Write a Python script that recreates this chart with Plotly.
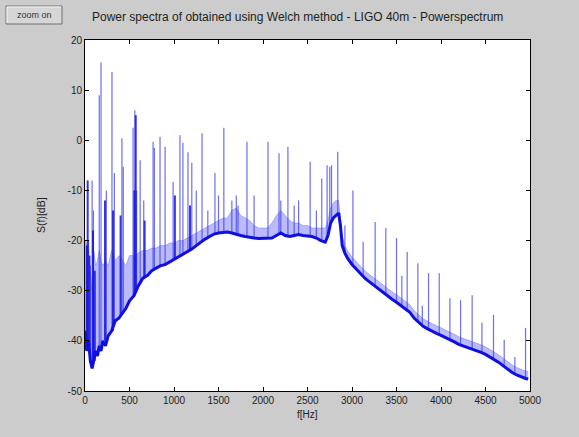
import plotly.graph_objects as go

# ---------------- data ----------------
base_freq = [0, 20, 40, 60, 80, 100, 120, 140, 160, 180, 200, 230, 260, 300, 340, 380, 420, 460, 500,
             550, 600, 650, 700, 750, 800, 850, 900, 950, 1000, 1050, 1100, 1150, 1200, 1250, 1300,
             1350, 1400, 1450, 1500, 1550, 1600, 1650, 1700, 1750, 1800, 1850, 1900, 1950, 2000, 2050,
             2100, 2150, 2200, 2250, 2300, 2350, 2400, 2450, 2500, 2550, 2600, 2650, 2700, 2730, 2760,
             2790, 2820, 2850, 2870, 2890, 2920, 2950, 3000, 3050, 3100, 3150, 3200, 3250, 3300, 3350,
             3400, 3450, 3500, 3550, 3600, 3650, 3700, 3750, 3800, 3850, 3900, 3950, 4000, 4050, 4100,
             4150, 4200, 4250, 4300, 4350, 4400, 4450, 4500, 4550, 4600, 4650, 4700, 4750, 4800, 4850,
             4900, 4950, 4980]

base_db = [-38, -42, -40, -44, -45.5, -44, -42, -43, -41, -42, -40, -41, -39, -38, -36, -35.5, -34.5,
           -33.5, -32, -31, -29, -27.5, -27, -26, -25.5, -25, -24.8, -24.3, -23.8, -23.3, -22.8, -22.2,
           -21.7, -21, -20.3, -19.7, -19.2, -18.7, -18.5, -18.4, -18.3, -18.5, -18.8, -19, -19.2, -19.4,
           -19.5, -19.6, -19.6, -19.6, -19.5, -19, -18.5, -19, -19.2, -19, -18.8, -19, -19.1, -19.2,
           -19.5, -20, -20.3, -19, -16.5, -15.5, -15, -14.5, -17, -21, -22.5, -23.5, -24.8, -25.8,
           -26.8, -27.6, -28.3, -29, -29.7, -30.4, -31, -31.7, -32.3, -33, -33.6, -34.3, -35.5, -36.4,
           -37.1, -37.6, -38.1, -38.5, -38.9, -39.3, -39.7, -40.2, -40.7, -41, -41.4, -41.7, -42,
           -42.3, -42.7, -43.2, -43.7, -44.3, -45, -45.7, -46.3, -46.8, -47.2, -47.5, -47.6]

upper_db = [-20, -21, -22, -26, -30, -22, -25, -24, -22, -24, -25, -24, -25, -22, -24, -23, -24,
            -25, -23, -23, -22.5, -22, -22, -21.5, -21.5, -21, -21, -20.5, -20.5, -20, -20, -19.5,
            -19, -18.5, -18, -17.5, -17, -16.5, -16, -15.5, -15.5, -14, -13.5, -15, -15.5, -16,
            -17, -17.5, -17.5, -17.5, -16.5, -15, -14, -15, -16, -16.5, -16.5, -17, -17, -17.5,
            -17.5, -17.5, -17.5, -16, -13.5, -12.5, -12, -12, -15, -19, -21, -22, -23.3, -24.3,
            -25.3, -26.1, -26.8, -27.5, -28.2, -28.9, -29.5, -30.2, -30.8, -31.5, -32.1, -32.8,
            -34, -34.9, -35.6, -36.1, -36.6, -37, -37.4, -37.8, -38.2, -38.7, -39.2, -39.5, -39.9,
            -40.2, -40.5, -40.8, -41.2, -41.7, -42.2, -42.8, -43.5, -44.2, -44.8, -45.3, -45.7,
            -46, -46.1]

# thin (lighter) spectral lines
spike_freq = [40, 60, 80, 95, 160, 180, 240, 303, 330, 415, 430, 540, 560, 580, 620, 660, 765, 780,
              843, 900, 990, 1067, 1100, 1157, 1200, 1250, 1315, 1380, 1460, 1500, 1560, 1650, 1700,
              1720, 1820, 1900, 2056, 2180, 2200, 2280, 2350, 2400, 2530, 2600, 2660, 2720, 2750,
              2770, 2840, 2920, 3010, 3125, 3260, 3380, 3500, 3560, 3620, 3740, 3790, 3860, 3980,
              4100, 4220, 4350, 4460, 4590, 4710, 4830, 4950]

spike_peak = [-20, -25, -8, -14, 9, 15.5, -10, 13.6, -6.5, 0.4, -5.3, 2.5, 6, -10, -4, -12, -0.3,
              -1.5, 0.7, -1.3, -8.3, 1, -0.5, -2.4, -4.5, -10, 1.4, -14, -6.5, -11, 2.5, -12, -11,
              -13, -0.3, -11, -0.3, -2.6, -12, -1.3, -13, -12, -4.3, -14, -7.6, -5, -5.3, -5, -2.3,
              -17, -10, -20.3, -16.3, -17.5, -19.5, -27, -22.3, -24.5, -33, -26.5, -26.5, -31.5,
              -31.9, -30.9, -36.4, -34.8, -39.8, -43.2, -37.4]

spike_floor = [-40, -44, -45, -44, -41, -42, -40, -38, -37, -34.5, -34, -31, -30.5, -30, -28.5, -27.5,
               -26, -25.8, -25, -24.8, -23.9, -23.2, -22.8, -22.2, -21.7, -21, -20.2, -19.4, -18.7,
               -18.5, -18.4, -18.5, -18.8, -18.9, -19.3, -19.5, -19.6, -18.7, -18.5, -19.1, -19,
               -18.8, -19.2, -19.5, -20, -19.5, -17, -16, -14.6, -22.5, -25, -27.2, -29.1, -30.8,
               -32.3, -33.1, -33.9, -36.2, -37, -37.7, -38.8, -39.7, -40.8, -41.7, -42.4, -43.6,
               -45.1, -46.6, -47.5]

# darker, denser lines at low frequency
dark_freq = [20, 30, 50, 90, 110, 225, 315, 400, 555, 570, 670, 1010, 1180]
dark_peak = [-21, -8, -23, -18, -26, -12, -14, -15, -10, 5, -16, -11, -13]
dark_floor = [-42, -41, -41, -45, -44, -40, -38, -35, -31, -30.5, -27.5, -23.8, -22]

x_ticks = [0, 500, 1000, 1500, 2000, 2500, 3000, 3500, 4000, 4500, 5000]
x_tick_text = ["0", "500", "1000", "1500", "2000", "2500", "3000", "3500", "4000", "4500", "5000"]
y_ticks = [-50, -40, -30, -20, -10, 0, 10, 20]
y_tick_text = ["-50", "-40", "-30", "-20", "-10", "0", "10", "20"]

title_text = "Power spectra of obtained using Welch method - LIGO 40m - Powerspectrum"

# ---------------- build spike segments ----------------
def segments(freqs, peaks, floors):
    xs, ys = [], []
    for f, p, b in zip(freqs, peaks, floors):
        xs += [f, f, None]
        ys += [b, p, None]
    return xs, ys

sx, sy = segments(spike_freq, spike_peak, spike_floor)
dx, dy = segments(dark_freq, dark_peak, dark_floor)

FONT = "Liberation Sans, Arial, sans-serif"
fig = go.Figure()
fig.add_trace(go.Scatter(x=base_freq, y=base_db, mode="lines",
                         line=dict(width=0, color="rgba(0,0,255,0)"), hoverinfo="skip"))
fig.add_trace(go.Scatter(x=base_freq, y=upper_db, mode="lines", fill="tonexty",
                         fillcolor="rgba(90,90,250,0.42)",
                         line=dict(width=0.6, color="rgba(70,70,240,0.55)"), hoverinfo="skip"))
fig.add_trace(go.Scatter(x=sx, y=sy, mode="lines",
                         line=dict(width=1.2, color="rgba(50,50,230,0.7)"), hoverinfo="skip"))
fig.add_trace(go.Scatter(x=dx, y=dy, mode="lines",
                         line=dict(width=2, color="rgba(20,20,225,0.85)"), hoverinfo="skip"))
fig.add_trace(go.Scatter(x=base_freq, y=base_db, mode="lines",
                         line=dict(width=3, color="rgb(15,15,225)"), hoverinfo="skip"))

axis_common = dict(showgrid=False, zeroline=False, showline=True, linecolor="black",
                   linewidth=1, ticks="inside", ticklen=4, tickcolor="black",
                   mirror="allticks", tickfont=dict(family=FONT, size=10, color="#222"))
fig.update_xaxes(range=[0, 5000], tickvals=x_ticks, ticktext=x_tick_text, **axis_common)
fig.update_yaxes(range=[-50, 20], tickvals=y_ticks, ticktext=y_tick_text, **axis_common)

def px2x(px):
    return (px - 85) / 445.0

def py2y(py):
    return (391 - py) / 351.0

annotations = [
    dict(text=title_text, x=px2x(297), y=py2y(17), xref="paper", yref="paper",
         showarrow=False, xanchor="center", yanchor="middle",
         font=dict(family=FONT, size=12, color="#222")),
    dict(text="f[Hz]", x=px2x(307), y=py2y(407), xref="paper", yref="paper",
         showarrow=False, xanchor="center", yanchor="top",
         font=dict(family=FONT, size=10, color="#222")),
    dict(text="S(f)[dB]", x=px2x(41), y=py2y(215), xref="paper", yref="paper",
         showarrow=False, textangle=-90, xanchor="center", yanchor="middle",
         font=dict(family=FONT, size=10.5, color="#222")),
    dict(text="zoom on", x=px2x(34), y=py2y(15), xref="paper", yref="paper",
         showarrow=False, xanchor="center", yanchor="middle",
         font=dict(family=FONT, size=9, color="#333")),
]

shapes = [
    dict(type="rect", xref="paper", yref="paper", x0=px2x(6), x1=px2x(62), y0=py2y(24), y1=py2y(6),
         fillcolor="#d6d6d6", line=dict(color="#707070", width=1)),
    dict(type="line", xref="paper", yref="paper", x0=px2x(7), x1=px2x(61), y0=py2y(7), y1=py2y(7),
         line=dict(color="#f4f4f4", width=1)),
    dict(type="line", xref="paper", yref="paper", x0=px2x(7), x1=px2x(7), y0=py2y(7), y1=py2y(23),
         line=dict(color="#f4f4f4", width=1)),
]

fig.update_layout(
    width=579, height=437,
    margin=dict(l=85, r=49, t=40, b=46, pad=0),
    paper_bgcolor="#cccccc", plot_bgcolor="white",
    showlegend=False, annotations=annotations, shapes=shapes,
)

fig.write_html("out.html")
